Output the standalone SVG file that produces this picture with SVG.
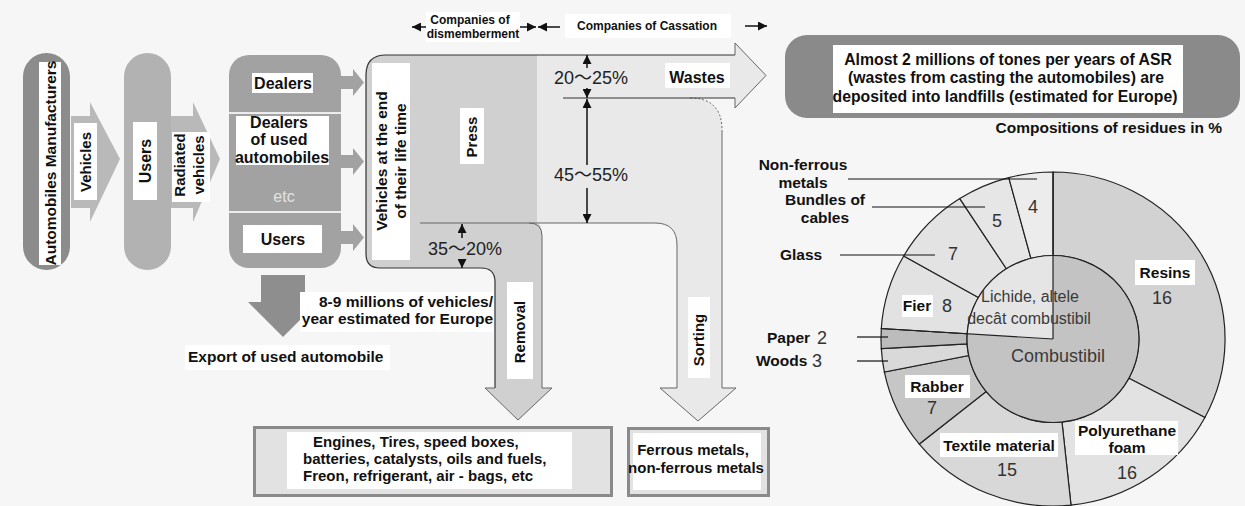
<svg xmlns="http://www.w3.org/2000/svg" width="1245" height="506" viewBox="0 0 1245 506">
<defs>
<style>
.b{font-family:'Liberation Sans',Arial,'Noto Sans CJK SC',sans-serif;font-weight:bold;fill:#111;}
.n{font-family:'Liberation Sans',Arial,'Noto Sans CJK SC',sans-serif;fill:#333;}
.w{fill:#fff;}
.ol{fill:none;stroke:#333;stroke-width:1.2;}
.og{fill:none;stroke:#666;stroke-width:1;}
.ar{stroke:#111;stroke-width:1.5;fill:none;marker-end:url(#tri);}
.sl{stroke:#222;stroke-width:1.2;}
.ld{stroke:#111;stroke-width:1.2;}
</style>
<marker id="tri" viewBox="0 0 10 10" refX="10" refY="5" markerWidth="10" markerHeight="9" markerUnits="userSpaceOnUse" orient="auto">
<path d="M0,0 L10,5 L0,10 Z" fill="#111"/>
</marker>
</defs>
<rect width="1245" height="506" fill="#f6f6f6"/>

<!-- header -->
<g id="header">
<rect x="426" y="12" width="94" height="30" class="w"/>
<rect x="565" y="14" width="166" height="24" class="w"/>
<text class="b" font-size="12" x="470" y="24" text-anchor="middle">Companies of</text>
<text class="b" font-size="12" x="473" y="38" text-anchor="middle">dismemberment</text>
<text class="b" font-size="12" x="647" y="29.5" text-anchor="middle">Companies of Cassation</text>
</g>

<!-- flows -->
<g id="flows">
<path d="M537,55 L735,55 L735,43 L766,75.5 L735,108 L735,98 L690,98 Q722,98 722,130 L722,388 L736,388 L698,421 L660,388 L677,388 L677,245 Q677,223 655,223 L537,223 Z" fill="#e9e9e9"/>
<path d="M366,75 Q366,55 386,55 L537,55 L537,223 Q542,224 542,236 L542,388 L552,388 L518,420 L485,388 L495,388 L495,282 Q495,268 481,268 L380,268 Q366,268 366,254 Z" fill="#d0d0d0"/>
<path class="ol" d="M735,55 L386,55 Q366,55 366,75 L366,254 Q366,268 380,268 L481,268 Q495,268 495,282 L495,388"/>
<path class="og" d="M495,388 L485,388 L518,420 L552,388 L542,388 L542,236 Q542,223 529,223"/>
<path class="og" d="M420,223 L655,223 Q677,223 677,245 L677,388 L660,388 L698,421 L736,388 L722,388 L722,130"/>
<path class="og" d="M690,98 Q722,98 722,130" stroke-dasharray="2 2"/>
<path class="ol" d="M563,98 L735,98"/>
<path class="og" d="M735,98 L735,108 L766,75.5 L735,43 L735,55"/>
</g>

<!-- nodes -->
<g id="manufacturers">
<rect x="23" y="53" width="47" height="217" rx="23.5" fill="#8c8c8c"/>
<rect x="39" y="62" width="22" height="203" class="w"/>
<text class="b" font-size="15.5" transform="translate(50,163) rotate(-90)" text-anchor="middle" dy="0.36em">Automobiles Manufacturers</text>
</g>

<g id="users1">
<rect x="124" y="53" width="47" height="217" rx="23.5" fill="#b2b2b2"/>
<rect x="133" y="122" width="24" height="78" class="w"/>
<text class="b" font-size="16" transform="translate(145,161) rotate(-90)" text-anchor="middle" dy="0.36em">Users</text>
</g>

<g id="sellers">
<rect x="229" y="55" width="112" height="213" rx="20" fill="#a2a2a2"/>
<line x1="229" y1="113" x2="341" y2="113" stroke="#ececec" stroke-width="2"/>
<line x1="229" y1="212" x2="341" y2="212" stroke="#ececec" stroke-width="2"/>
<rect x="252" y="73" width="61" height="20" class="w"/>
<text class="b" font-size="16" x="283" y="88.6" text-anchor="middle">Dealers</text>
<rect x="236" y="116" width="93" height="49" class="w"/>
<text class="b" font-size="16" x="279" y="127.6" text-anchor="middle">Dealers</text>
<text class="b" font-size="16" x="279" y="145" text-anchor="middle">of used</text>
<text class="b" font-size="16" x="282" y="162.6" text-anchor="middle">automobiles</text>
<text class="n" font-size="16" x="284" y="202" text-anchor="middle" fill="#e2e2e2" style="fill:#e2e2e2">etc</text>
<rect x="243" y="225" width="79" height="28" class="w"/>
<text class="b" font-size="16" x="283" y="244.6" text-anchor="middle">Users</text>
</g>

<g id="eol">
<rect x="372" y="63" width="38" height="197" class="w"/>
<text class="b" font-size="15.5" transform="translate(381,161) rotate(-90)" text-anchor="middle" dy="0.36em">Vehicles at the end</text>
<text class="b" font-size="15.5" transform="translate(400,161) rotate(-90)" text-anchor="middle" dy="0.36em">of their life time</text>
</g>

<g id="press">
<rect x="460" y="108" width="24" height="56" class="w"/>
<text class="b" font-size="15" transform="translate(472,137) rotate(-90)" text-anchor="middle" dy="0.36em">Press</text>
</g>

<g id="wastes">
<rect x="665" y="63" width="65" height="25" class="w"/>
<text class="b" font-size="16" x="697" y="82.6" text-anchor="middle">Wastes</text>
</g>

<g id="asr">
<rect x="785" y="35" width="455" height="83" rx="22" fill="#8a8a8a"/>
<rect x="833" y="45" width="350" height="68" class="w"/>
<text class="b" font-size="15.8" x="1008" y="64.6" text-anchor="middle">Almost 2 millions of tones per years of ASR</text>
<text class="b" font-size="15.8" x="1006" y="83.3" text-anchor="middle">(wastes from casting the automobiles) are</text>
<text class="b" font-size="15.8" x="1005" y="101.8" text-anchor="middle">deposited into landfills (estimated for Europe)</text>
</g>

<g id="compositions-title">
<text class="b" font-size="15.5" x="1222" y="133.4" text-anchor="end">Compositions of residues in %</text>
</g>

<g id="export">
<path d="M261,275 L305,275 L305,302 L318,302 L283,337 L248,302 L261,302 Z" fill="#8e8e8e"/>
<rect x="300" y="292" width="193" height="40" class="w"/>
<text class="b" font-size="15.5" x="493" y="307.4" text-anchor="end">8-9 millions of vehicles/</text>
<text class="b" font-size="15.5" x="493" y="324.4" text-anchor="end">year estimated for Europe</text>
<rect x="185" y="345" width="205" height="25" class="w"/>
<text class="b" font-size="15.5" x="188" y="362.4">Export of used automobile</text>
</g>

<g id="removal">
<rect x="507" y="282" width="26" height="97" class="w"/>
<text class="b" font-size="15" transform="translate(520,332) rotate(-90)" text-anchor="middle" dy="0.36em">Removal</text>
</g>

<g id="sorting">
<rect x="688" y="297" width="22" height="81" class="w"/>
<text class="b" font-size="15" transform="translate(699,340) rotate(-90)" text-anchor="middle" dy="0.36em">Sorting</text>
</g>

<g id="components-box">
<rect x="254.5" y="427.5" width="357" height="68" fill="#e2e2e2" stroke="#8a8a8a" stroke-width="3"/>
<rect x="287" y="432" width="285" height="57" class="w"/>
<text class="b" font-size="15" x="313" y="446.5">Engines, Tires, speed boxes,</text>
<text class="b" font-size="15" x="303" y="463.8">batteries, catalysts, oils and fuels,</text>
<text class="b" font-size="15" x="303" y="481.2">Freon, refrigerant, air - bags, etc</text>
</g>

<g id="metals-box">
<rect x="628.5" y="428.5" width="140" height="67" fill="#e2e2e2" stroke="#8a8a8a" stroke-width="3"/>
<rect x="633" y="433" width="128" height="57" class="w"/>
<text class="b" font-size="15" x="693" y="454.5" text-anchor="middle">Ferrous metals,</text>
<text class="b" font-size="15" x="696" y="472.5" text-anchor="middle">non-ferrous metals</text>
</g>

<!-- pie chart -->
<g id="pie">
<g transform="translate(1053,339) scale(1,0.971)">
<path class="sl" fill="#d2d2d2" d="M0,-172 A172,172 0 0 1 151.9,80.8 L75.9,40.4 A86,86 0 0 0 0,-86 Z"/>
<path class="sl" fill="#e2e2e2" d="M151.9,80.8 A172,172 0 0 1 18,171.1 L9,85.5 A86,86 0 0 0 75.9,40.4 Z"/>
<path class="sl" fill="#d8d8d8" d="M18,171.1 A172,172 0 0 1 -133.7,108.2 L-66.8,54.1 A86,86 0 0 0 9,85.5 Z"/>
<path class="sl" fill="#c6c6c6" d="M-133.7,108.2 A172,172 0 0 1 -168.6,34 L-84.3,17 A86,86 0 0 0 -66.8,54.1 Z"/>
<path class="sl" fill="#d9d9d9" d="M-168.6,34 A172,172 0 0 1 -171.7,9.9 L-85.9,5 A86,86 0 0 0 -84.3,17 Z"/>
<path class="sl" fill="#bcbcbc" d="M-171.7,9.9 A172,172 0 0 1 -171.7,-10.8 L-85.8,-5.4 A86,86 0 0 0 -85.9,5 Z"/>
<path class="sl" fill="#e2e2e2" d="M-171.7,-10.8 A172,172 0 0 1 -149.3,-85.5 L-74.6,-42.7 A86,86 0 0 0 -85.8,-5.4 Z"/>
<path class="sl" fill="#e3e3e3" d="M-149.3,-85.5 A172,172 0 0 1 -93.2,-144.6 L-46.6,-72.3 A86,86 0 0 0 -74.6,-42.7 Z"/>
<path class="sl" fill="#e6e6e6" d="M-93.2,-144.6 A172,172 0 0 1 -44.2,-166.2 L-22.1,-83.1 A86,86 0 0 0 -46.6,-72.3 Z"/>
<path class="sl" fill="#ececec" d="M-44.2,-166.2 A172,172 0 0 1 0,-172 L0,-86 A86,86 0 0 0 -22.1,-83.1 Z"/>
<path fill="#c3c3c3" d="M0,0 L0,-86 A86,86 0 1 1 -85.8,-5.4 Z"/>
<path fill="#e5e5e5" d="M0,0 L-85.8,-5.4 A86,86 0 0 1 0,-86 Z"/>
<circle r="86" fill="none" class="sl"/>
<line class="sl" x1="0" y1="-172" x2="0" y2="0"/>
<line class="sl" x1="-171.7" y1="-10.8" x2="0" y2="0"/>
</g>
<text class="n" font-size="16" x="1030" y="301.6" text-anchor="middle" style="fill:#3a3a3a">Lichide, altele</text>
<text class="n" font-size="16" x="1029" y="323.6" text-anchor="middle" style="fill:#3a3a3a">decât combustibil</text>
<text class="n" font-size="18" x="1058" y="361.5" text-anchor="middle" style="fill:#3a3a3a">Combustibil</text>
</g>

<g id="label-nonferrous">
<text class="b" font-size="15.5" x="803" y="169.5" text-anchor="middle">Non-ferrous</text>
<text class="b" font-size="15.5" x="803" y="187.5" text-anchor="middle">metals</text>
<text class="n" font-size="18" x="1033" y="213.3" text-anchor="middle">4</text>
</g>
<g id="label-bundles">
<text class="b" font-size="15.5" x="825" y="204.5" text-anchor="middle">Bundles of</text>
<text class="b" font-size="15.5" x="825" y="222.5" text-anchor="middle">cables</text>
<text class="n" font-size="18" x="997" y="227.3" text-anchor="middle">5</text>
</g>
<g id="label-glass">
<text class="b" font-size="15.5" x="780" y="259.5">Glass</text>
<text class="n" font-size="18" x="953" y="259.5" text-anchor="middle">7</text>
</g>
<g id="label-fier">
<rect x="902" y="295" width="31" height="22" class="w"/>
<text class="b" font-size="15.5" x="917" y="311.4" text-anchor="middle">Fier</text>
<text class="n" font-size="18" x="947" y="312.3" text-anchor="middle">8</text>
</g>
<g id="label-resins">
<rect x="1135" y="260" width="60" height="25" class="w"/>
<text class="b" font-size="15.5" x="1165" y="277.5" text-anchor="middle">Resins</text>
<text class="n" font-size="18" x="1162" y="304.3" text-anchor="middle">16</text>
</g>
<g id="label-paper">
<text class="b" font-size="15.5" x="767" y="342.5">Paper</text>
<text class="n" font-size="18" x="822" y="343.5" text-anchor="middle">2</text>
</g>
<g id="label-woods">
<text class="b" font-size="15.5" x="756" y="365.5">Woods</text>
<text class="n" font-size="18" x="817" y="366.5" text-anchor="middle">3</text>
</g>
<g id="label-rabber">
<rect x="905" y="375" width="65" height="23" class="w"/>
<text class="b" font-size="15.5" x="937" y="391.5" text-anchor="middle">Rabber</text>
<text class="n" font-size="18" x="932" y="414.3" text-anchor="middle">7</text>
</g>
<g id="label-textile">
<rect x="940" y="433" width="118" height="24" class="w"/>
<text class="b" font-size="15.5" x="999" y="450.5" text-anchor="middle">Textile material</text>
<text class="n" font-size="18" x="1007" y="476.3" text-anchor="middle">15</text>
</g>
<g id="label-polyurethane">
<rect x="1075" y="421" width="103" height="34" class="w"/>
<text class="b" font-size="15.5" x="1127" y="435.5" text-anchor="middle">Polyurethane</text>
<text class="b" font-size="15.5" x="1127" y="452.5" text-anchor="middle">foam</text>
<text class="n" font-size="18" x="1127" y="479.3" text-anchor="middle">16</text>
</g>

<!-- connectors -->
<g id="connectors">
<path d="M71,116 L90,116 L90,102 L120,159 L90,222 L90,208 L71,208 Z" fill="#b9b9b9"/>
<rect x="74" y="123" width="23" height="77" class="w"/>
<text class="b" font-size="15" transform="translate(85.5,162) rotate(-90)" text-anchor="middle" dy="0.36em">Vehicles</text>
<path d="M171,116 L193,116 L193,102 L220,159 L193,222 L193,208 L171,208 Z" fill="#b9b9b9"/>
<rect x="172" y="132" width="38" height="70" class="w"/>
<text class="b" font-size="15" transform="translate(180,165) rotate(-90)" text-anchor="middle" dy="0.36em">Radiated</text>
<text class="b" font-size="15" transform="translate(199,165) rotate(-90)" text-anchor="middle" dy="0.36em">vehicles</text>
<path d="M340,76 L353,76 L353,69 L364,82.5 L353,96 L353,89 L340,89 Z" fill="#a2a2a2"/>
<path d="M340,155 L353,155 L353,148 L364,161.5 L353,175 L353,168 L340,168 Z" fill="#a2a2a2"/>
<path d="M340,231 L353,231 L353,224 L364,237.5 L353,251 L353,244 L340,244 Z" fill="#a2a2a2"/>
<line class="ar" x1="426" y1="27" x2="412" y2="27"/>
<line class="ar" x1="520" y1="27" x2="536" y2="27"/>
<line class="ar" x1="560" y1="27" x2="538" y2="27"/>
<line class="ar" x1="745" y1="26" x2="767" y2="26"/>
<line class="ar" x1="587" y1="68" x2="587" y2="55"/>
<line class="ar" x1="587" y1="88" x2="587" y2="98"/>
<line class="ar" x1="587" y1="165" x2="587" y2="99"/>
<line class="ar" x1="587" y1="188" x2="587" y2="223"/>
<line class="ar" x1="462" y1="238" x2="462" y2="224"/>
<line class="ar" x1="462" y1="259" x2="462" y2="268"/>
<line class="ld" x1="848" y1="179" x2="1037" y2="179"/>
<line class="ld" x1="872" y1="207" x2="985" y2="207"/>
<line class="ld" x1="840" y1="255" x2="935" y2="255"/>
<line class="ld" x1="857" y1="337" x2="888" y2="337"/>
<line class="ld" x1="857" y1="361" x2="888" y2="361"/>
</g>

<g id="percentages">
<text class="n" font-size="18" x="591" y="84.3" text-anchor="middle" style="fill:#222">20～25%</text>
<text class="n" font-size="18" x="591" y="181.3" text-anchor="middle" style="fill:#222">45～55%</text>
<text class="n" font-size="18" x="465" y="255.3" text-anchor="middle" style="fill:#222">35～20%</text>
</g>
</svg>
